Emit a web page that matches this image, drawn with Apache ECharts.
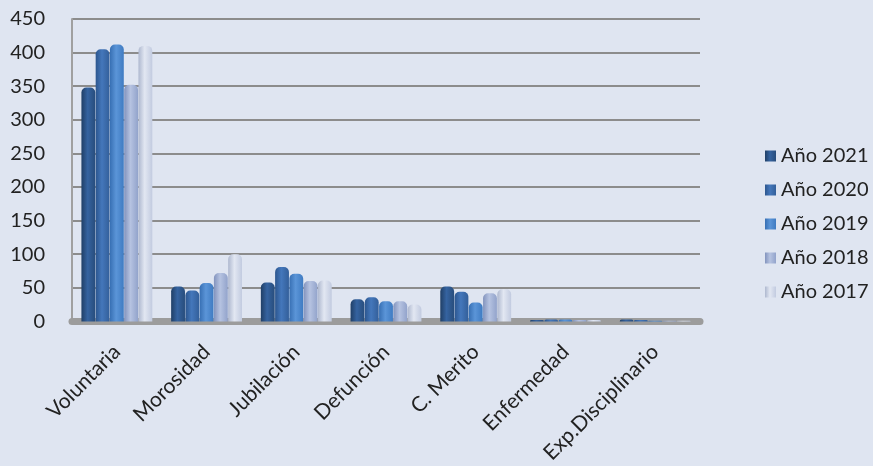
<!DOCTYPE html>
<html>
<head>
<meta charset="utf-8">
<script src="https://cdn.jsdelivr.net/npm/echarts@6/dist/echarts.min.js"></script>
<style>
html,body{margin:0;padding:0;background:#dfe5f1;}
#chart{width:873px;height:466px;}
</style>
</head>
<body>
<div id="chart"></div>
<script>
const categories = ['Voluntaria','Morosidad','Jubilación','Defunción','C. Merito','Enfermedad','Exp.Disciplinario'];
const seriesNames = ['Año 2021','Año 2020','Año 2019','Año 2018','Año 2017'];
const y2021 = [348, 52, 58, 33, 52, 2, 3];
const y2020 = [405, 46, 81, 36, 44, 3, 2];
const y2019 = [412, 57, 71, 30, 28, 3, 1];
const y2018 = [352, 72, 60, 30, 42, 2, 1];
const y2017 = [410, 100, 61, 25, 48, 2, 1];
const yTicks = [0, 50, 100, 150, 200, 250, 300, 350, 400, 450];

const seriesData = [y2021, y2020, y2019, y2018, y2017];
const baseColors = [
  ['#203f66','#3563a0','#284d7c'],
  ['#2c568e','#4477bb','#335f9a'],
  ['#376fb3','#5b95d8','#3f7bc2'],
  ['#8293bd','#b6c3e1','#92a3cb'],
  ['#aeb8cf','#e2e7f2','#c2cbe0']
];

function grad(c){
  return new echarts.graphic.LinearGradient(0,0,1,0,[
    {offset:0,color:c[0]},{offset:0.45,color:c[1]},{offset:1,color:c[2]}
  ]);
}

const chart = echarts.init(document.getElementById('chart'));
const font = 'Lato, "Open Sans", sans-serif';
chart.setOption({
  backgroundColor:'#dfe5f1',
  animation:false,
  grid:{left:72, right:173, top:19, bottom:143, containLabel:false},
  legend:{
    orient:'vertical', left:760, top:141,
    itemWidth:11, itemHeight:11, itemGap:14,
    icon:'rect',
    textStyle:{fontFamily:font, fontSize:20, color:'#222'},
    data:seriesNames
  },
  xAxis:{
    type:'category', data:categories,
    axisLine:{show:true, lineStyle:{color:'#9c9c9c', width:7}},
    axisTick:{show:false},
    axisLabel:{rotate:45, margin:27, fontFamily:font, fontSize:21, color:'#222', interval:0}
  },
  yAxis:{
    type:'value', min:0, max:450, interval:50,
    axisLine:{show:true, lineStyle:{color:'#a0a0a0', width:2}},
    axisTick:{show:false},
    axisLabel:{margin:27, fontFamily:font, fontSize:20, color:'#222',
      formatter:v => yTicks.includes(v) ? String(v) : ''},
    splitLine:{show:true, lineStyle:{color:'#8c8c8c', width:2}}
  },
  series: seriesNames.map((n,i)=>({
    name:n, type:'bar', data:seriesData[i],
    barGap:'3%', barCategoryGap:'21%',
    itemStyle:{color:grad(baseColors[i]), borderRadius:[5,5,0,0]},
    emphasis:{disabled:true}
  }))
});
</script>
</body>
</html>
